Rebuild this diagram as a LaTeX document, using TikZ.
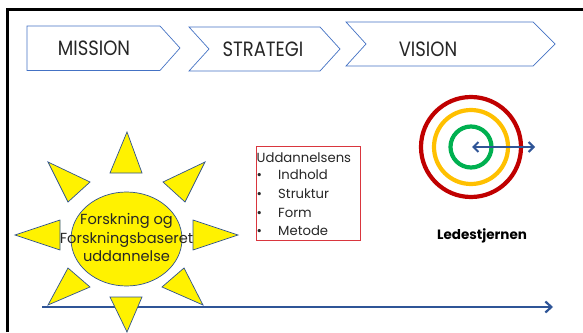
\documentclass[tikz,border=0pt]{standalone}
\usepackage{fontspec}
\setmainfont{Poppins}
\usetikzlibrary{arrows.meta}
\definecolor{chevblue}{HTML}{4472C4}
\definecolor{navy}{HTML}{2F5597}
\definecolor{sunline}{HTML}{2F528F}
\definecolor{ringred}{HTML}{C00000}
\definecolor{ringyellow}{HTML}{FFC000}
\definecolor{ringgreen}{HTML}{00B050}
\definecolor{boxred}{HTML}{D9363E}
\definecolor{txt}{HTML}{262626}
\tikzset{
  chev/.style={draw=chevblue, line width=0.7pt, fill=white, line join=miter},
  chevtext/.style={font=\fontsize{18}{18}\selectfont, text=txt, inner sep=0pt},
  ray/.style={draw=sunline, line width=0.7pt, fill=yellow, line join=miter},
  suntext/.style={font=\fontsize{14.6}{18.5}\selectfont, text=txt, align=center, inner sep=0pt},
  boxtext/.style={font=\fontsize{13.2}{13}\selectfont, text=txt, inner sep=0pt, anchor=base west},
  ring/.style={line width=4.2pt},
  bluearrow/.style={draw=navy, line width=2.2pt, -{Straight Barb[length=6pt,width=11pt,line width=2.2pt]}},
}
\newcommand{\tallish}[1]{\scalebox{1}[1.15]{#1}}
\begin{document}
\begin{tikzpicture}[x=1pt,y=-1pt]
\useasboundingbox (0,0) rectangle (583,332);
% frame
\draw[line width=3pt] (7.5,332) -- (7.5,9) -- (583,9);
% chevrons
\draw[chev] (27,26) -- (160,26) -- (180,48) -- (160,70.5) -- (27,70.5) -- cycle;
\draw[chev] (189,27) -- (320,27) -- (340,49) -- (320,71) -- (189,71) -- (209,49) -- cycle;
\draw[chev] (346,22) -- (533,22) -- (555,44) -- (533,66) -- (346,66) -- (366,44) -- cycle;
\node[chevtext] (mission) at (94,48.5) {\tallish{MISSION}};
\node[chevtext] (strategi) at (263,49) {\tallish{STRATEGI}};
\node[chevtext] (vision) at (428,49) {\tallish{VISION}};
% timeline arrow (behind sun)
\coordinate (tlstart) at (42,307);
\coordinate (tlend) at (553,307);
\draw[bluearrow] (tlstart) -- (tlend);
% sun rays
\draw[ray] (127,132) -- (142,173) -- (110,173) -- cycle;
\draw[ray] (127,332) -- (142,297) -- (110,297) -- cycle;
\draw[ray] (15,235) -- (60,220) -- (60,250) -- cycle;
\draw[ray] (238,235) -- (193,220) -- (193,250) -- cycle;
\draw[ray] (48,162) -- (90,182) -- (68,202) -- cycle;
\draw[ray] (205,162) -- (163,182) -- (185,202) -- cycle;
\draw[ray] (48,305) -- (90,287) -- (68,268) -- cycle;
\draw[ray] (203,305) -- (162,287) -- (184,268) -- cycle;
\draw[ray] (126.5,239) ellipse [x radius=55.5, y radius=47];
\node[suntext] (sun) at (126.5,238) {Forskning og\\Forskningsbaseret\\uddannelse};
% box
\node[draw=boxred, line width=0.8pt, minimum width=104.5pt, minimum height=94pt, anchor=north west, inner sep=0pt] (box) at (255.5,146) {};
\node[boxtext] (l0) at (256.5,162) {Uddannelsens};
\node[boxtext] (b1) at (256.5,179) {\textbullet};
\node[boxtext] (l1) at (278,179) {Indhold};
\node[boxtext] (b2) at (256.5,198) {\textbullet};
\node[boxtext] (l2) at (278,198) {Struktur};
\node[boxtext] (b3) at (256.5,217) {\textbullet};
\node[boxtext] (l3) at (278,217) {Form};
\node[boxtext] (b4) at (256.5,235) {\textbullet};
\node[boxtext] (l4) at (278,235) {Metode};
% target
\coordinate (tc) at (471,147);
\draw[ring, ringred] (tc) circle [radius=50];
\draw[ring, ringyellow] (tc) circle [radius=37];
\draw[ring, ringgreen] (tc) circle [radius=20.5];
\coordinate (dastart) at (472,147);
\coordinate (daend) at (535,147);
\draw[draw=navy, line width=2pt, {Straight Barb[length=5pt,width=10pt,line width=2pt]}-{Straight Barb[length=5pt,width=10pt,line width=2pt]}] (dastart) -- (daend);
\node[font=\fontsize{13.5}{13.5}\bfseries, text=black, inner sep=0pt] (lede) at (482,236) {Ledestjernen};
\end{tikzpicture}
\end{document}
